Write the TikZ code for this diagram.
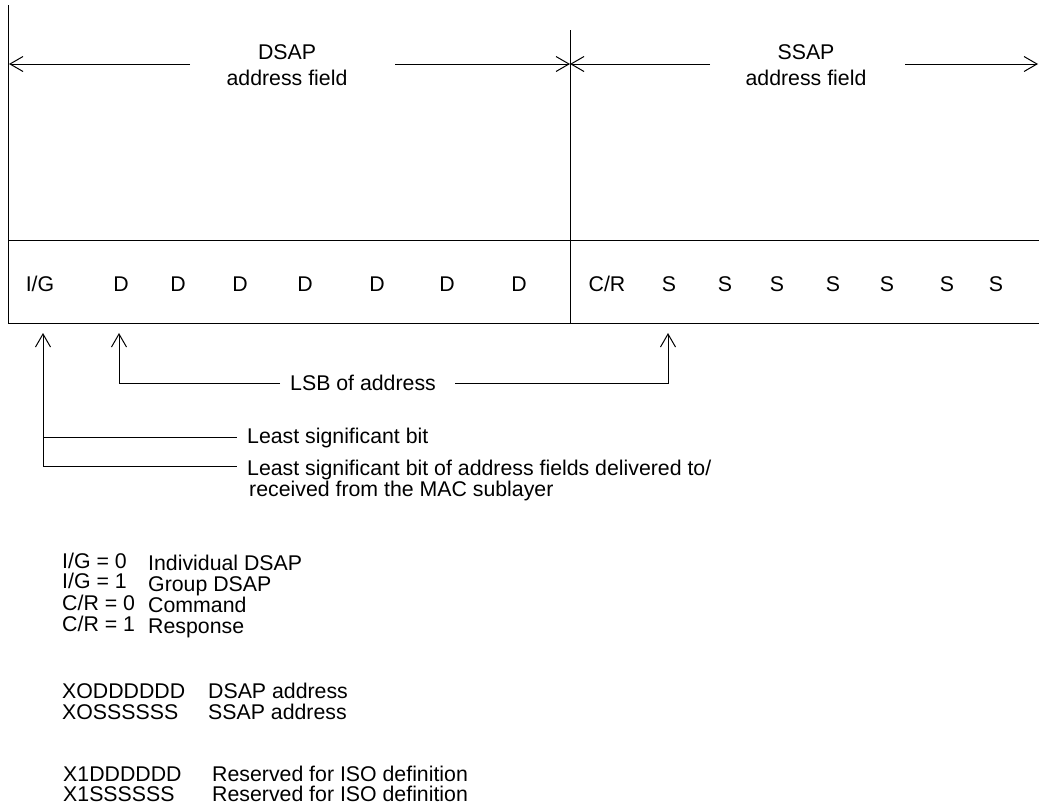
\documentclass[tikz,border=0pt]{standalone}
\usepackage{fontspec}
\setmainfont{Liberation Sans}
\usetikzlibrary{arrows.meta}
\begin{document}
\begin{tikzpicture}[x=1pt,y=-1pt,
  every node/.style={inner sep=0pt, font=\fontsize{21.3}{24}\selectfont},
  ln/.style={line width=1pt, draw=black},
  arr/.style={ln, -{Straight Barb[length=13pt,width=15pt,line width=1pt]}},
  lbl/.style={anchor=base west},
  ctr/.style={anchor=base}]
\useasboundingbox (0,0) rectangle (1039,807);
% frame
\coordinate (tl) at (8,5);
\coordinate (bl) at (8,323);
\coordinate (tm) at (570,30);
\coordinate (bm) at (570,323);
\coordinate (ml) at (8,240);
\coordinate (mr) at (1039,240);
\coordinate (br) at (1039,323);
\draw[ln] (tl) -- (bl) -- (br);
\draw[ln] (ml) -- (mr);
\draw[ln] (tm) -- (bm);
% field labels
\node[ctr] (dsap) at (287,59) {DSAP};
\node[ctr] (dsapf) at (287,85) {address field};
\node[ctr] (ssap) at (806,59) {SSAP};
\node[ctr] (ssapf) at (806,85) {address field};
\coordinate (da1) at (190,64); \coordinate (da1t) at (9,64);
\coordinate (da2) at (395,64); \coordinate (da2t) at (570,64);
\coordinate (sa1) at (710,64); \coordinate (sa1t) at (570,64);
\coordinate (sa2) at (905,64); \coordinate (sa2t) at (1038,64);
\draw[arr] (da1) -- (da1t);
\draw[arr] (da2) -- (da2t);
\draw[arr] (sa1) -- (sa1t);
\draw[arr] (sa2) -- (sa2t);
% bits
\node[ctr] (ig) at (40,291) {I/G};
\foreach \x [count=\i] in {121,178,240,305,377,447,519}
  \node[ctr] (d\i) at (\x,291) {D};
\node[ctr] (cr) at (607,291) {C/R};
\foreach \x [count=\i] in {669,725,777,833,887,947,996}
  \node[ctr] (s\i) at (\x,291) {S};
% pointers
\coordinate (p1t) at (43,333);
\coordinate (p1b) at (43,466);
\coordinate (h1) at (237,437);
\coordinate (h2) at (237,466);
\draw[arr] (p1b) -- (p1t);
\draw[ln] (p1b |- h1) -- (h1);
\draw[ln] (p1b) -- (h2);
\node[anchor=west] (lsb) at (290,383) {LSB of address};
\coordinate (p2t) at (119,333);
\coordinate (p2c) at (119,383);
\coordinate (p2s) at (280,383);
\coordinate (p3t) at (668,333);
\coordinate (p3c) at (668,383);
\coordinate (p3s) at (455,383);
\draw[arr] (p2s) -- (p2c) -- (p2t);
\draw[arr] (p3s) -- (p3c) -- (p3t);
\node[lbl] (lsbit) at (247,443) {Least significant bit};
\node[lbl] (lsbit2a) at (247,475) {Least significant bit of address fields delivered to/};
\node[lbl] (lsbit2b) at (249,496) {received from the MAC sublayer};
% legend
\node[lbl] (k1) at (62,568) {I/G = 0};
\node[lbl] (v1) at (148,570) {Individual DSAP};
\node[lbl] (k2) at (62,588) {I/G = 1};
\node[lbl] (v2) at (148,591) {Group DSAP};
\node[lbl] (k3) at (62,610) {C/R = 0};
\node[lbl] (v3) at (148,612) {Command};
\node[lbl] (k4) at (62,631) {C/R = 1};
\node[lbl] (v4) at (148,633) {Response};
\node[lbl] (k5) at (62,698) {XODDDDDD};
\node[lbl] (v5) at (208,698) {DSAP address};
\node[lbl] (k6) at (62,719) {XOSSSSSS};
\node[lbl] (v6) at (208,719) {SSAP address};
\node[lbl] (k7) at (63,781) {X1DDDDDD};
\node[lbl] (v7) at (212,781) {Reserved for ISO definition};
\node[lbl] (k8) at (63,801) {X1SSSSSS};
\node[lbl] (v8) at (212,801) {Reserved for ISO definition};
\end{tikzpicture}
\end{document}
